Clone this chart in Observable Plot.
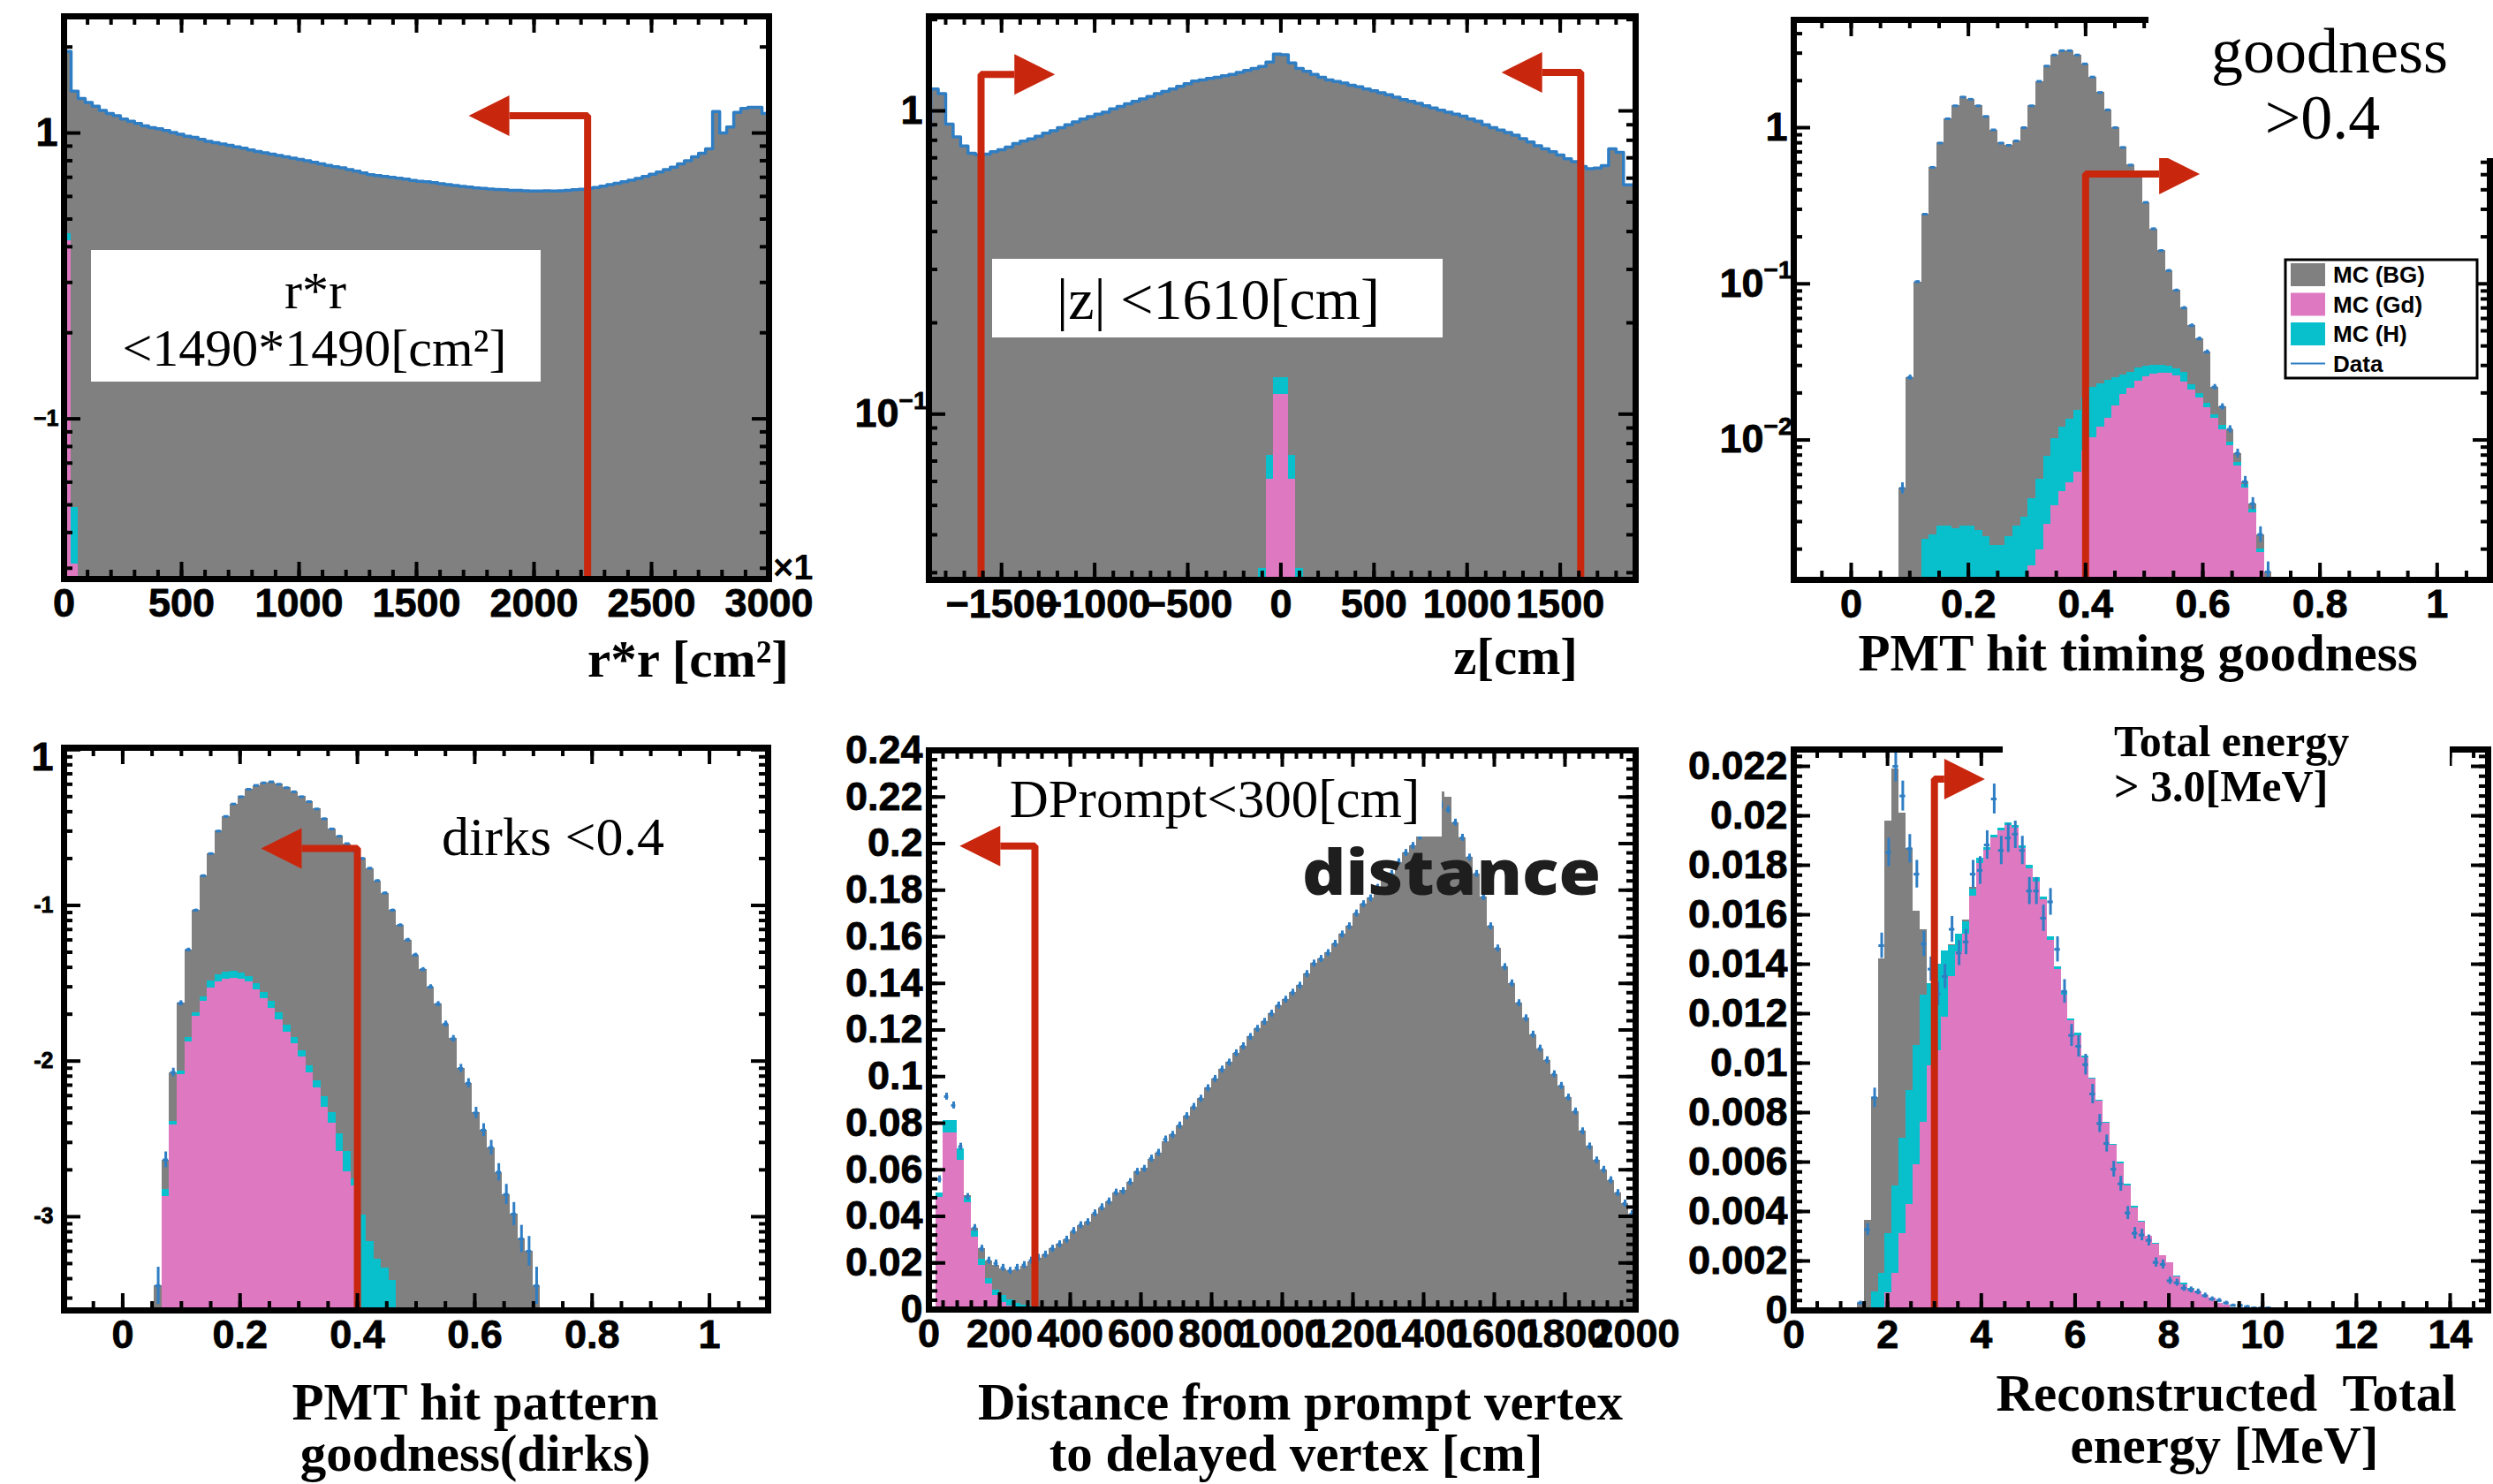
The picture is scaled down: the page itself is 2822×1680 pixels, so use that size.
<!DOCTYPE html>
<html>
<head>
<meta charset="utf-8">
<title>Event selection cuts</title>
<script src="https://cdn.jsdelivr.net/npm/d3@7"></script>
<script src="https://cdn.jsdelivr.net/npm/@observablehq/plot@0.6"></script>
<style>
  html, body { margin: 0; padding: 0; background: #ffffff; }
  #page { position: relative; width: 2822px; height: 1680px; overflow: hidden; background: #ffffff; }
  #page svg { position: absolute; }
</style>
</head>
<body>
<div id="page"></div>
<script>
// ======================= DATA =======================
// Panel 1 : r*r [cm^2] (x10^3), log y
const rrBinStart = 0, rrBinWidth = 30;
const rrMcTotal = [
  1.93, 1.40, 1.32, 1.28, 1.24, 1.20, 1.17, 1.15, 1.12, 1.10,
  1.08, 1.06, 1.045, 1.035, 1.02, 1.005, 0.99, 0.975, 0.965, 0.95,
  0.935, 0.925, 0.915, 0.905, 0.895, 0.885, 0.872, 0.862, 0.853, 0.843,
  0.835, 0.826, 0.817, 0.808, 0.80, 0.79, 0.78, 0.77, 0.762, 0.755,
  0.745, 0.735, 0.725, 0.715, 0.71, 0.705, 0.70, 0.695, 0.69, 0.683,
  0.678, 0.675, 0.67, 0.665, 0.66, 0.655, 0.65, 0.647, 0.643, 0.64,
  0.637, 0.635, 0.633, 0.63, 0.63, 0.628, 0.627, 0.627, 0.628, 0.627,
  0.628, 0.63, 0.633, 0.636, 0.64, 0.645, 0.652, 0.66, 0.667, 0.675,
  0.684, 0.694, 0.705, 0.717, 0.73, 0.745, 0.76, 0.78, 0.80, 0.825,
  0.85, 0.88, 1.19, 1.00, 1.05, 1.18, 1.22, 1.23, 1.23, 1.17
];
const rrData = rrMcTotal; // data histogram lies on the MC total
const rrMcGd = [0.42, 0.031];
const rrMcGdH = [0.445, 0.049];
const rrCut = {x: 2228, yTop: 1.15, xHead: 1895, dir: -1};
const rrXTicks = [0, 500, 1000, 1500, 2000, 2500, 3000];
const rrYBig = [{v: 1, base: "1"}];
const rrYSmall = [{v: 0.1, t: "−1"}];

// Panel 2 : z [cm], log y
const zBinStart = -1920, zBinWidth = 40;
const zMcTotal = [
  0.875, 1.18, 1.14, 0.905, 0.82, 0.766, 0.725, 0.716, 0.72, 0.733,
  0.745, 0.76, 0.78, 0.795, 0.808, 0.825, 0.845, 0.86, 0.88, 0.90,
  0.92, 0.94, 0.958, 0.975, 0.99, 1.015, 1.035, 1.055, 1.075, 1.095,
  1.115, 1.14, 1.16, 1.18, 1.205, 1.23, 1.255, 1.265, 1.28, 1.29,
  1.305, 1.32, 1.34, 1.36, 1.38, 1.40, 1.45, 1.54, 1.53, 1.44,
  1.38, 1.35, 1.32, 1.29, 1.265, 1.25, 1.235, 1.215, 1.20, 1.18,
  1.165, 1.148, 1.13, 1.11, 1.09, 1.075, 1.058, 1.04, 1.022, 1.005,
  0.99, 0.975, 0.96, 0.94, 0.925, 0.90, 0.88, 0.865, 0.848, 0.832,
  0.81, 0.79, 0.768, 0.75, 0.733, 0.715, 0.695, 0.68, 0.655, 0.645,
  0.648, 0.66, 0.75, 0.73, 0.57, 0.57
];
const zData = zMcTotal; // data histogram lies on the MC total
const zGdStart = -80;
const zMcGd = [0.061, 0.116, 0.116, 0.061];
const zGdHStart = -120;
const zMcGdH = [0.031, 0.073, 0.1315, 0.1315, 0.073, 0.031];
const zCuts = [{x: -1610, yTop: 1.32, xHead: -1431, dir: 1}, {x: 1610, yTop: 1.34, xHead: 1403, dir: -1}];
const zXTicks = [-1500, -1000, -500, 0, 500, 1000, 1500];
const zYLabels = [{v: 1, base: "1"}, {v: 0.1, base: "10", sup: "−1"}];

// Panel 3 : PMT hit timing goodness, log y
const tgBinStart = 0.081, tgBinWidth = 0.013;
const tgMcTotal = [
  0.0049, 0.0251, 0.103, 0.279, 0.557, 0.797, 1.14, 1.38, 1.57, 1.52,
  1.38, 1.18, 0.968, 0.797, 0.771, 0.823, 1.0, 1.38, 1.98, 2.48,
  2.92, 3.11, 3.11, 2.92, 2.56, 2.11, 1.68, 1.30, 1.0, 0.747,
  0.576, 0.49, 0.332, 0.225, 0.163, 0.1215, 0.0908, 0.070, 0.054, 0.0444,
  0.0366, 0.0218, 0.0163, 0.0117, 0.0082, 0.0054, 0.0039, 0.00248, 0.00143
];
const tgData = tgMcTotal; // data points sit on the MC total
const tgGdHFirstBin = 3;
const tgMcGdH = [
  0.00232, 0.00248, 0.0028, 0.0028, 0.0027, 0.0028, 0.0028, 0.00265, 0.0024, 0.0021,
  0.0021, 0.0024, 0.0028, 0.0032, 0.0042, 0.0056, 0.0079, 0.0102, 0.0121, 0.0136,
  0.0155, 0.0185, 0.0218, 0.023, 0.0242, 0.0252, 0.0262, 0.0272, 0.0288, 0.0297,
  0.030, 0.030, 0.0296, 0.0285, 0.027, 0.0226, 0.0198, 0.0172, 0.0146, 0.0124,
  0.0097, 0.0072, 0.0052, 0.0036, 0.002
];
const tgGdFirstBin = 17;
const tgMcGd = [
  0.00157, 0.00197, 0.0029, 0.0038, 0.0047, 0.0053, 0.0062, 0.0085, 0.0104, 0.0121,
  0.0138, 0.0165, 0.0195, 0.0215, 0.0237, 0.0255, 0.0264, 0.0266, 0.0266, 0.0258,
  0.0235, 0.021, 0.0185, 0.0162, 0.0138, 0.0117, 0.0092, 0.0068, 0.0049, 0.0034, 0.0019
];
const tgCut = {x: 0.4, yTop: 0.505, xHead: 0.5256, dir: 1};
const tgXTicks = [0, 0.2, 0.4, 0.6, 0.8, 1];
const tgYLabels = [{v: 1, base: "1"}, {v: 0.1, base: "10", sup: "−1"}, {v: 0.01, base: "10", sup: "−2"}];

// Panel 4 : PMT hit pattern goodness (dirks), log y
const dkBinStart = 0.054, dkBinWidth = 0.0129;
const dkMcTotal = [
  0.00036, 0.00232, 0.00845, 0.0235, 0.0518, 0.093, 0.155, 0.215, 0.30, 0.373,
  0.448, 0.499, 0.557, 0.59, 0.613, 0.622, 0.60, 0.57, 0.537, 0.499,
  0.464, 0.416, 0.36, 0.31, 0.278, 0.249, 0.223, 0.20, 0.173, 0.144,
  0.12, 0.093, 0.0746, 0.06, 0.048, 0.0387, 0.0299, 0.0232, 0.0173, 0.0139,
  0.00896, 0.0072, 0.00464, 0.0036, 0.00278, 0.00193, 0.00139, 0.00104, 0.00072, 0.0006,
  0.00036
];
const dkData = dkMcTotal; // data points sit on the MC total
const dkSignalFirstBin = 1;
const dkMcGd = [
  0.00135, 0.0039, 0.00817, 0.0132, 0.0195, 0.0242, 0.0295, 0.0322, 0.0336, 0.034,
  0.0336, 0.0322, 0.0288, 0.0253, 0.0217, 0.0183, 0.0153, 0.0129, 0.0106, 0.00835,
  0.0067, 0.00507, 0.004, 0.00264, 0.00195, 0.00158
];
const dkMcGdH = [
  0.0015, 0.0041, 0.0086, 0.0141, 0.0205, 0.0259, 0.0328, 0.0358, 0.0374, 0.038,
  0.037, 0.035, 0.0314, 0.0276, 0.0242, 0.0204, 0.0171, 0.0141, 0.0116, 0.0093,
  0.0075, 0.0059, 0.00464, 0.00343, 0.00264, 0.00175, 0.00102, 0.00069, 0.00053, 0.00047,
  0.00039
];
const dkCut = {x: 0.4, yTop: 0.232, xHead: 0.305, dir: -1};
const dkXTicks = [0, 0.2, 0.4, 0.6, 0.8, 1];
const dkYBig = [{v: 1, base: "1"}];
const dkYSmall = [{v: 0.1, t: "-1"}, {v: 0.01, t: "-2"}, {v: 0.001, t: "-3"}];

// Panel 5 : distance prompt-delayed [cm], linear y
const dpBinStart = 20, dpBinWidth = 20;
const dpData = [
  0.0559, 0.0914, 0.0876, 0.0699, 0.0483, 0.035, 0.0261, 0.021, 0.0198, 0.0179,
  0.0166, 0.0179, 0.0191, 0.021, 0.0222, 0.0236, 0.0261, 0.028, 0.030, 0.0337,
  0.0362, 0.0375, 0.0413, 0.0439, 0.0464, 0.0502, 0.0508, 0.0547, 0.0591, 0.0604,
  0.0648, 0.0673, 0.073, 0.075, 0.079, 0.083, 0.087, 0.0905, 0.095, 0.099,
  0.103, 0.106, 0.110, 0.113, 0.117, 0.1205, 0.1235, 0.127, 0.1305, 0.133,
  0.136, 0.139, 0.144, 0.1485, 0.1505, 0.153, 0.157, 0.161, 0.1645, 0.170,
  0.174, 0.1765, 0.181, 0.185, 0.187, 0.192, 0.196, 0.199, 0.203, 0.206,
  0.211, 0.2165, 0.2145, 0.209, 0.2025, 0.194, 0.187, 0.177, 0.1645, 0.155,
  0.147, 0.140, 0.1315, 0.125, 0.118, 0.112, 0.107, 0.101, 0.096, 0.091,
  0.085, 0.0765, 0.070, 0.064, 0.060, 0.0555, 0.050, 0.0455, 0.041
];
const dpMcTotal = [
  0.05, 0.081, 0.081, 0.069, 0.049, 0.035, 0.026, 0.021, 0.019, 0.0175,
  0.0165, 0.017, 0.0185, 0.0205, 0.022, 0.0236, 0.026, 0.028, 0.030, 0.0335,
  0.036, 0.0375, 0.041, 0.0437, 0.0462, 0.050, 0.051, 0.0545, 0.059, 0.0605,
  0.0645, 0.067, 0.072, 0.075, 0.079, 0.083, 0.087, 0.0905, 0.095, 0.099,
  0.103, 0.106, 0.110, 0.113, 0.117, 0.1205, 0.1235, 0.127, 0.1305, 0.133,
  0.136, 0.139, 0.144, 0.1485, 0.1505, 0.153, 0.157, 0.161, 0.1645, 0.170,
  0.174, 0.1765, 0.181, 0.185, 0.187, 0.192, 0.196, 0.199, 0.203, 0.207,
  0.212, 0.222, 0.220, 0.209, 0.2025, 0.194, 0.187, 0.177, 0.1645, 0.155,
  0.147, 0.140, 0.1315, 0.125, 0.118, 0.112, 0.107, 0.101, 0.096, 0.091,
  0.085, 0.0765, 0.070, 0.064, 0.060, 0.0555, 0.050, 0.0455, 0.041
];
const dpMcGd = [0.048, 0.076, 0.076, 0.064, 0.046, 0.031, 0.019, 0.011, 0.006, 0.003, 0.0015, 0.0006];
const dpMcGdH = [0.05, 0.081, 0.081, 0.069, 0.0483, 0.0337, 0.0215, 0.0134, 0.0085, 0.006, 0.004, 0.0028, 0.002, 0.0014, 0.001, 0.0007, 0.0005, 0.0003];
const dpCut = {x: 300, yTop: 0.199, xHead: 202, dir: -1};
const dpXTicks = [0, 200, 400, 600, 800, 1000, 1200, 1400, 1600, 1800, 2000];
const dpYTicks = [0, 0.02, 0.04, 0.06, 0.08, 0.1, 0.12, 0.14, 0.16, 0.18, 0.2, 0.22, 0.24];

// Panel 6 : reconstructed total energy [MeV], linear y
const enBinWidth = 0.15;
const enDataStart = 1.35;
const enData = [
  0.0003, 0.00327, 0.0086, 0.01475, 0.01852, 0.022, 0.0208, 0.01867, 0.01764, 0.01482,
  0.0138, 0.0128, 0.0135, 0.01541, 0.01445, 0.0149, 0.01764, 0.01779, 0.01882, 0.02068,
  0.0186, 0.0191, 0.01926, 0.0186, 0.01696, 0.01696, 0.01586, 0.01652, 0.0146, 0.0129,
  0.01112, 0.01068, 0.00994, 0.00875, 0.00756, 0.00675, 0.00571, 0.00512, 0.00394, 0.00312,
  0.00305, 0.00283, 0.00194, 0.00186, 0.0012, 0.00112, 0.0009, 0.00083, 0.00075, 0.0006,
  0.00046, 0.0004, 0.0003, 0.0002, 0.0002, 0.00015, 0.0001, 0.0001, 0.0001, 0.00005
];
const enMcTotal = [
  0.0003, 0.00364, 0.0086, 0.01423, 0.0198, 0.0219, 0.0201, 0.01867, 0.01615, 0.0154,
  0.0129, 0.0135, 0.014, 0.0148, 0.0152, 0.0158, 0.0171, 0.0183, 0.0187, 0.0192,
  0.0195, 0.0197, 0.0196, 0.0188, 0.018, 0.0175, 0.0167, 0.0151, 0.0139, 0.0129,
  0.0118, 0.0112, 0.0103, 0.0094, 0.0085, 0.0076, 0.0067, 0.006, 0.0051, 0.0042,
  0.0036, 0.003, 0.0027, 0.0022, 0.0019, 0.0014, 0.0011, 0.0009, 0.00075, 0.0006,
  0.0005, 0.0003, 0.0002
];
const enGdHStart = 1.65;
const enMcGdH = [
  0.00075, 0.0015, 0.0031, 0.00505, 0.00697, 0.0089, 0.0107, 0.01275, 0.0132, 0.0140,
  0.01452, 0.01475, 0.0152, 0.0157, 0.01704, 0.0183, 0.0187, 0.0192, 0.0195, 0.0197,
  0.0196, 0.0188, 0.018, 0.0175, 0.0167, 0.0151, 0.0139, 0.0129, 0.0118, 0.0112,
  0.0103, 0.0094, 0.0085, 0.0076, 0.0067, 0.006, 0.0051, 0.0042, 0.0036, 0.003,
  0.0027, 0.0022, 0.0019, 0.0014, 0.0011, 0.0009, 0.00075, 0.0006, 0.0005, 0.0003, 0.0002
];
const enGdStart = 1.95;
const enMcGd = [
  0.0007, 0.0015, 0.0031, 0.0043, 0.0059, 0.0076, 0.0099, 0.0105, 0.01186, 0.0135,
  0.0145, 0.0152, 0.01675, 0.01808, 0.0186, 0.0191, 0.0194, 0.0196, 0.0195, 0.01868,
  0.01786, 0.01734, 0.0166, 0.01497, 0.01379, 0.01275, 0.01171, 0.01112, 0.01023, 0.00934,
  0.00845, 0.00756, 0.00668, 0.00594, 0.00505, 0.00416, 0.00357, 0.003, 0.00268, 0.0022,
  0.00194, 0.00135, 0.00105, 0.00085, 0.00075, 0.0006, 0.0005, 0.0003, 0.0002
];
const enCut = {x: 3.0, yTop: 0.02148, xHead: 3.21, dir: 1};
const enXTicks = [0, 2, 4, 6, 8, 10, 12, 14];
const enYTicks = [0, 0.002, 0.004, 0.006, 0.008, 0.01, 0.012, 0.014, 0.016, 0.018, 0.02, 0.022];

const legendItems = ["MC (BG)", "MC (Gd)", "MC (H)", "Data"];

// ======================= STYLE =======================
const RED = "#c8270e", GRAY = "#808080", PINK = "#de78c1", CYAN = "#08bfcc", BLUE = "#2f7ec4";
const SANS = "'Liberation Sans', Arial, Helvetica, sans-serif";
const SERIF = "'Liberation Serif', 'Times New Roman', serif";
const page = document.getElementById("page");

// ======================= HELPERS =======================
function bins(values, start, width) {
  return values.map((v, i) => ({x1: start + i * width, x2: start + (i + 1) * width, c: start + (i + 0.5) * width, v}))
               .filter(d => d.v > 0);
}
function hist(values, start, width, fill, yMin) {
  return Plot.rect(bins(values, start, width), {
    x1: "x1", x2: "x2", y1: () => yMin, y2: "v", fill, clip: true, shapeRendering: "crispEdges"
  });
}
function stepLine(values, start, width) {
  return Plot.line(bins(values, start, width), {x: "c", y: "v", curve: "step", stroke: BLUE, strokeWidth: 3.5, clip: true});
}
function dataPoints(values, start, width, lo, hi, halfFrac) {
  const pts = bins(values, start, width);
  return [
    Plot.ruleY(pts, {y: "v", x1: d => d.c - halfFrac * width, x2: d => d.c + halfFrac * width, stroke: BLUE, strokeWidth: 3, clip: true}),
    Plot.ruleX(pts, {x: "c", y1: d => lo(d.v), y2: d => hi(d.v), stroke: BLUE, strokeWidth: 3, clip: true})
  ];
}
const headRight = {draw(ctx) { ctx.moveTo(0, -23); ctx.lineTo(46, 0); ctx.lineTo(0, 23); ctx.closePath(); }};
const headLeft = {draw(ctx) { ctx.moveTo(0, -23); ctx.lineTo(-46, 0); ctx.lineTo(0, 23); ctx.closePath(); }};
function cutArrow(a, yMin) {
  return [
    Plot.line([[a.x, yMin], [a.x, a.yTop], [a.xHead, a.yTop]], {stroke: RED, strokeWidth: 8, strokeLinejoin: "miter", strokeLinecap: "butt"}),
    Plot.dot([[a.xHead, a.yTop]], {symbol: a.dir > 0 ? headRight : headLeft, r: 10, fill: RED, stroke: "none"})
  ];
}
function linRange(lo, hi, step) {
  const out = [];
  const k0 = Math.ceil(lo / step - 1e-9), k1 = Math.floor(hi / step + 1e-9);
  for (let k = k0; k <= k1; k++) out.push(+(k * step).toFixed(6));
  return out;
}
function logMajor(lo, hi) {
  const out = [];
  for (let e = -6; e <= 2; e++) { const v = Math.pow(10, e); if (v >= lo * 0.999 && v <= hi * 1.001) out.push(v); }
  return out;
}
function logMinor(lo, hi) {
  const out = [];
  for (let e = -6; e <= 2; e++) for (let k = 2; k <= 9; k++) { const v = k * Math.pow(10, e); if (v > lo && v < hi) out.push(v); }
  return out;
}
function frameTicks(w, h, xMaj, xMin, yMaj, yMin) {
  const M = 19, m = 10, st = {stroke: "black", strokeWidth: 4};
  return [
    Plot.tickX(xMaj, {x: d => d, insetTop: h - M, ...st}),
    Plot.tickX(xMaj, {x: d => d, insetBottom: h - M, ...st}),
    Plot.tickX(xMin, {x: d => d, insetTop: h - m, ...st}),
    Plot.tickX(xMin, {x: d => d, insetBottom: h - m, ...st}),
    Plot.tickY(yMaj, {y: d => d, insetRight: w - M, ...st}),
    Plot.tickY(yMaj, {y: d => d, insetLeft: w - M, ...st}),
    Plot.tickY(yMin, {y: d => d, insetRight: w - m, ...st}),
    Plot.tickY(yMin, {y: d => d, insetLeft: w - m, ...st}),
    Plot.frame({stroke: "black", strokeWidth: 7})
  ];
}
const tickFont = {fontFamily: SANS, fontWeight: "bold", fill: "black", stroke: "black", strokeWidth: 0.8};
function xLabels(ticks, fmt) {
  return Plot.text(ticks, {x: d => d, text: fmt, frameAnchor: "bottom", dy: 42, fontSize: 45, ...tickFont});
}
function yLabelsText(ticks, fmt) {
  return Plot.text(ticks, {y: d => d, text: fmt, frameAnchor: "left", textAnchor: "end", dx: -7, fontSize: 45, ...tickFont});
}
function yLabelsPow(list, opts = {}) {
  const plain = list.filter(d => !d.sup), pow = list.filter(d => d.sup);
  return [
    Plot.text(plain, {y: "v", text: "base", frameAnchor: "left", textAnchor: "end", dx: opts.dx ?? -7, dy: opts.dy ?? 0, fontSize: 45, ...tickFont}),
    Plot.text(pow, {y: "v", text: "base", frameAnchor: "left", textAnchor: "end", dx: -34, fontSize: 45, ...tickFont}),
    Plot.text(pow, {y: "v", text: "sup", frameAnchor: "left", textAnchor: "end", dx: -2, dy: -15, fontSize: 28, ...tickFont})
  ];
}
function ySmall(list, dx) {
  return Plot.text(list, {y: "v", text: "t", frameAnchor: "left", textAnchor: "end", dx, fontSize: 25, ...tickFont});
}
function panel(cfg) {
  const mL = 150, mR = 70, mT = 40, mB = 90;
  const w = cfg.R - cfg.L, h = cfg.B - cfg.T;
  const svg = Plot.plot({
    width: w + mL + mR, height: h + mT + mB,
    marginLeft: mL, marginRight: mR, marginTop: mT, marginBottom: mB,
    x: {type: cfg.xType || "linear", domain: cfg.xDomain, axis: null},
    y: {type: cfg.yType || "linear", domain: cfg.yDomain, axis: null},
    style: {background: "transparent", overflow: "visible"},
    marks: [
      ...cfg.marks(w, h)
    ]
  });
  svg.style.left = (cfg.L - mL) + "px";
  svg.style.top = (cfg.T - mT) + "px";
  page.appendChild(svg);
}

// ======================= PANEL 1 =======================
{
  const xd = [0, 3000], yd = [0.0275, 2.56];
  panel({L: 72, T: 18, R: 870, B: 655, xDomain: xd, yType: "log", yDomain: yd, marks: (w, h) => [
    hist(rrMcTotal, rrBinStart, rrBinWidth, GRAY, yd[0]),
    hist(rrMcGdH, rrBinStart, rrBinWidth, CYAN, yd[0]),
    hist(rrMcGd, rrBinStart, rrBinWidth, PINK, yd[0]),
    stepLine(rrData, rrBinStart, rrBinWidth),
    ...cutArrow(rrCut, yd[0]),
    ...frameTicks(w, h, linRange(0, 3000, 500), linRange(0, 3000, 100), logMajor(...yd), logMinor(...yd)),
    xLabels(rrXTicks, d => String(d)),
    ...yLabelsPow(rrYBig),
    ySmall(rrYSmall, -6)
  ]});
}
// ======================= PANEL 2 =======================
{
  const xd = [-1890, 1905], yd = [0.0284, 2.05];
  panel({L: 1051, T: 18, R: 1851, B: 656, xDomain: xd, yType: "log", yDomain: yd, marks: (w, h) => [
    hist(zMcTotal, zBinStart, zBinWidth, GRAY, yd[0]),
    hist(zMcGdH, zGdHStart, zBinWidth, CYAN, yd[0]),
    hist(zMcGd, zGdStart, zBinWidth, PINK, yd[0]),
    stepLine(zData, zBinStart, zBinWidth),
    ...cutArrow(zCuts[0], yd[0]),
    ...cutArrow(zCuts[1], yd[0]),
    ...frameTicks(w, h, linRange(xd[0], xd[1], 500), linRange(xd[0], xd[1], 100), logMajor(...yd), logMinor(...yd)),
    xLabels(zXTicks, d => d < 0 ? "−" + Math.abs(d) : String(d)),
    ...yLabelsPow(zYLabels)
  ]});
}
// ======================= PANEL 3 =======================
{
  const xd = [-0.098, 1.09], yd = [0.00127, 4.9];
  const lo = v => v / (1 + Math.min(0.5, 0.006 / Math.sqrt(v))), hi = v => v * (1 + Math.min(0.5, 0.006 / Math.sqrt(v)));
  panel({L: 2030, T: 22, R: 2818, B: 656, xDomain: xd, yType: "log", yDomain: yd, marks: (w, h) => [
    hist(tgMcTotal, tgBinStart, tgBinWidth, GRAY, yd[0]),
    hist(tgMcGdH, tgBinStart + tgGdHFirstBin * tgBinWidth, tgBinWidth, CYAN, yd[0]),
    hist(tgMcGd, tgBinStart + tgGdFirstBin * tgBinWidth, tgBinWidth, PINK, yd[0]),
    ...dataPoints(tgData, tgBinStart, tgBinWidth, lo, hi, 0.35),
    ...cutArrow(tgCut, yd[0]),
    ...frameTicks(w, h, linRange(xd[0], xd[1], 0.2), linRange(xd[0], xd[1], 0.05), logMajor(...yd), logMinor(...yd)),
    xLabels(tgXTicks, d => String(d)),
    ...yLabelsPow(tgYLabels)
  ]});
}
// ======================= PANEL 4 =======================
{
  const xd = [-0.1, 1.1], yd = [0.00025, 1.03];
  const lo = v => v / (1 + Math.min(0.5, 0.006 / Math.sqrt(v))), hi = v => v * (1 + Math.min(0.5, 0.006 / Math.sqrt(v)));
  const sigStart = dkBinStart + dkSignalFirstBin * dkBinWidth;
  panel({L: 72, T: 846, R: 869, B: 1483, xDomain: xd, yType: "log", yDomain: yd, marks: (w, h) => [
    hist(dkMcTotal, dkBinStart, dkBinWidth, GRAY, yd[0]),
    hist(dkMcGdH, sigStart, dkBinWidth, CYAN, yd[0]),
    hist(dkMcGd, sigStart, dkBinWidth, PINK, yd[0]),
    ...dataPoints(dkData, dkBinStart, dkBinWidth, lo, hi, 0.35),
    ...cutArrow(dkCut, yd[0]),
    ...frameTicks(w, h, linRange(xd[0], xd[1], 0.2), linRange(xd[0], xd[1], 0.05), logMajor(...yd), logMinor(...yd)),
    xLabels(dkXTicks, d => String(d)),
    ...yLabelsPow(dkYBig, {dx: -12, dy: 9}),
    ySmall(dkYSmall, -12)
  ]});
}
// ======================= PANEL 5 =======================
{
  const xd = [0, 2000], yd = [0, 0.24];
  const err = 0.0015;
  panel({L: 1051, T: 849, R: 1851, B: 1482, xDomain: xd, yDomain: yd, marks: (w, h) => [
    hist(dpMcTotal, dpBinStart, dpBinWidth, GRAY, 0),
    hist(dpMcGdH, dpBinStart, dpBinWidth, CYAN, 0),
    hist(dpMcGd, dpBinStart, dpBinWidth, PINK, 0),
    ...dataPoints(dpData, dpBinStart, dpBinWidth, v => v - err, v => v + err, 0.3),
    ...cutArrow(dpCut, 0),
    ...frameTicks(w, h, linRange(0, 2000, 200), linRange(0, 2000, 40), linRange(0, 0.24, 0.02), linRange(0, 0.24, 0.004)),
    xLabels(dpXTicks, d => String(d)),
    yLabelsText(dpYTicks, d => String(+d.toFixed(2)))
  ]});
}
// ======================= PANEL 6 =======================
{
  const xd = [0, 14.81], yd = [0, 0.02268];
  const e = v => 0.0042 * Math.sqrt(v);
  panel({L: 2030, T: 848, R: 2816, B: 1483, xDomain: xd, yDomain: yd, marks: (w, h) => [
    hist(enMcTotal, enDataStart, enBinWidth, GRAY, 0),
    hist(enMcGdH, enGdHStart, enBinWidth, CYAN, 0),
    hist(enMcGd, enGdStart, enBinWidth, PINK, 0),
    ...dataPoints(enData, enDataStart, enBinWidth, v => v - e(v), v => v + e(v), 0.4),
    ...cutArrow(enCut, 0),
    ...frameTicks(w, h, linRange(0, 14.81, 2), linRange(0, 14.81, 0.5), linRange(0, 0.0226, 0.002), linRange(0, 0.0226, 0.0004)),
    xLabels(enXTicks, d => String(d)),
    yLabelsText(enYTicks, d => String(+d.toFixed(3)))
  ]});
}

// ======================= OVERLAY (annotations, titles, legend) =======================
const ov = d3.create("svg").attr("width", 2822).attr("height", 1680).style("left", "0px").style("top", "0px");
function box(x, y, w, h) { ov.append("rect").attr("x", x).attr("y", y).attr("width", w).attr("height", h).attr("fill", "#ffffff"); }
function txt(t, x, y, o = {}) {
  const el = ov.append("text").attr("x", x).attr("y", y).text(t)
    .attr("font-family", o.family || SERIF).attr("font-size", o.size || 60)
    .attr("font-weight", o.weight || "normal").attr("text-anchor", o.anchor || "middle")
    .attr("fill", o.fill || "#000").style("white-space", "pre");
  if (o.length) el.attr("textLength", o.length).attr("lengthAdjust", "spacingAndGlyphs");
  return el;
}
// white boxes
box(103, 283, 509, 149);
box(1123, 293, 510, 89);
box(2432, 0, 390, 179);
box(1134, 884, 498, 63);
box(2267, 790, 506, 139);

// panel annotations
txt("r*r", 357, 349, {size: 60});
txt("<1490*1490[cm²]", 356, 414, {size: 60});
txt("|z| <1610[cm]", 1379, 361, {size: 66});
txt("goodness", 2637, 82, {size: 72});
txt(">0.4", 2629, 157, {size: 72});
txt("dirks <0.4", 626, 968, {size: 62});
txt("DPrompt<300[cm]", 1375, 925, {size: 61});
txt("distance", 1474, 1013, {size: 70, family: "'Open Sans', 'Liberation Sans', sans-serif", weight: 800, anchor: "start", fill: "#1e1e1e", length: 338});
txt("Total energy", 2393, 856, {size: 50, weight: "bold", anchor: "start"});
txt("> 3.0[MeV]", 2393, 907, {size: 50, weight: "bold", anchor: "start"});
txt("×1", 875, 656, {size: 40, family: SANS, weight: "bold", anchor: "start"});

// axis titles
txt("r*r [cm²]", 893, 766, {size: 59, weight: "bold", anchor: "end"});
txt("z[cm]", 1786, 763, {size: 59, weight: "bold", anchor: "end"});
txt("PMT hit timing goodness", 2420, 759, {size: 59, weight: "bold"});
txt("PMT hit pattern", 538, 1607, {size: 59, weight: "bold"});
txt("goodness(dirks)", 538, 1665, {size: 59, weight: "bold"});
txt("Distance from prompt vertex", 1472, 1607, {size: 59, weight: "bold"});
txt("to delayed vertex [cm]", 1467, 1665, {size: 59, weight: "bold"});
txt("Reconstructed  Total", 2520, 1597, {size: 59, weight: "bold"});
txt("energy [MeV]", 2518, 1656, {size: 59, weight: "bold"});

// legend (panel 3)
ov.append("rect").attr("x", 2587).attr("y", 294).attr("width", 217).attr("height", 134)
  .attr("fill", "#ffffff").attr("stroke", "#000").attr("stroke-width", 3);
const legColors = [GRAY, PINK, CYAN, null];
legendItems.forEach((name, i) => {
  const cy = 311 + i * 33.5;
  if (legColors[i]) ov.append("rect").attr("x", 2593).attr("y", cy - 13).attr("width", 39).attr("height", 26).attr("fill", legColors[i]);
  else ov.append("line").attr("x1", 2593).attr("x2", 2632).attr("y1", cy).attr("y2", cy).attr("stroke", BLUE).attr("stroke-width", 2);
  txt(name, 2641, cy + 9, {size: 26, family: SANS, weight: "bold", anchor: "start"});
});

page.appendChild(ov.node());
</script>
</body>
</html>
